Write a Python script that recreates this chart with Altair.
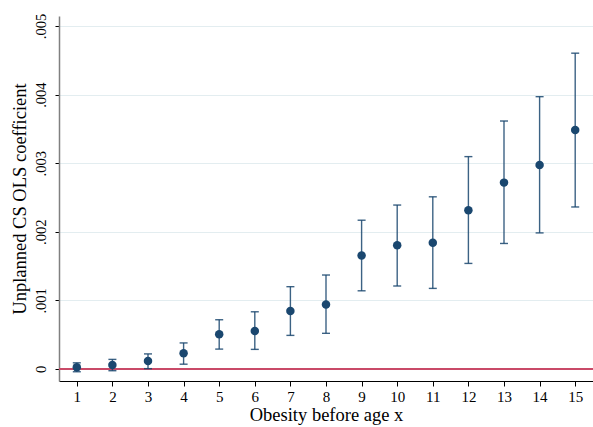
import altair as alt
import pandas as pd

# Coefficient estimates with 95% confidence bounds, by age cut-off
age = list(range(1, 16))
coef = [0.000025, 0.000058, 0.000116, 0.000228, 0.000505, 0.000553, 0.000844,
        0.00094, 0.001655, 0.001805, 0.00184, 0.002314, 0.002717, 0.002974, 0.003483]
lower = [-0.00004, -0.000025, 0.000005, 0.00007, 0.00029, 0.000286, 0.00049,
         0.00052, 0.00114, 0.00121, 0.001175, 0.001539, 0.00183, 0.001984, 0.002362]
upper = [0.00009, 0.00014, 0.00022, 0.00038, 0.000718, 0.000834, 0.0012,
         0.00137, 0.002169, 0.00239, 0.00251, 0.003096, 0.003615, 0.00397, 0.004604]
y_ticks = [0, 0.001, 0.002, 0.003, 0.004, 0.005]
y_labels = ["0", ".001", ".002", ".003", ".004", ".005"]

df = pd.DataFrame({"age": age, "coef": coef, "lo": lower, "hi": upper,
                   "zero": [0] * len(age)})

NAVY = "#1a476f"
FONT = "Liberation Serif"
Y_TITLE = "Unplanned CS OLS coefficient"

label_expr = "{" + ",".join(f"'{t}':'{l}'" for t, l in zip(y_ticks, y_labels)) + "}[datum.value]"

x_scale = alt.Scale(domain=[0.5, 15.5], nice=False, zero=False)
y_scale = alt.Scale(domain=[-0.000175, 0.005146], nice=False, zero=False)

x_axis = alt.Axis(values=age, format="d", grid=False, labelOverlap=False,
                  domainColor="#000000", domainWidth=1,
                  tickColor="#000000", tickSize=5,
                  labelFont=FONT, labelFontSize=15, labelColor="#000000",
                  labelPadding=3, titleFont=FONT, titleFontSize=18.5,
                  titleFontWeight="normal", titleColor="#000000", titlePadding=1)
y_axis = alt.Axis(values=y_ticks, labelExpr=label_expr, grid=True, labelOverlap=False,
                  gridColor="#e3edf0", gridWidth=1,
                  domainColor="#808080", domainWidth=1.5,
                  tickColor="#000000", tickSize=4,
                  labelAngle=270, labelAlign="center", labelBaseline="bottom",
                  labelFont=FONT, labelFontSize=14.5, labelColor="#000000",
                  labelPadding=7, titleFont=FONT, titleFontSize=18.5,
                  titleFontWeight="normal", titleColor="#000000", titlePadding=4)


def y_of(field):
    return alt.Y(f"{field}:Q", scale=y_scale, axis=y_axis, title=Y_TITLE)


base = alt.Chart(df).encode(
    x=alt.X("age:Q", scale=x_scale, axis=x_axis, title="Obesity before age x"))

# reference line at zero
zero_line = base.mark_rule(color="#c94a68", strokeWidth=2).encode(
    y=y_of("zero"), x=alt.value(0), x2=alt.value(534))

# confidence intervals with caps
bars = base.mark_rule(color=NAVY, strokeWidth=1.4, opacity=0.85).encode(
    y=y_of("lo"), y2="hi:Q")
cap_lo = base.mark_tick(color=NAVY, orient="horizontal", size=8, thickness=1.4,
                        opacity=0.85).encode(y=y_of("lo"))
cap_hi = base.mark_tick(color=NAVY, orient="horizontal", size=8, thickness=1.4,
                        opacity=0.85).encode(y=y_of("hi"))

# point estimates
points = base.mark_circle(color=NAVY, size=72, opacity=1).encode(y=y_of("coef"))

chart = alt.layer(zero_line, bars, cap_lo, cap_hi, points).properties(
    width=534, height=365,
    padding={"left": 59, "top": 16, "right": 0, "bottom": 46},
    autosize=alt.AutoSizeParams(type="none"),
    background="#ffffff",
).configure_view(stroke=None)

chart.save("out.html", embed_options={"renderer": "svg", "actions": False})
